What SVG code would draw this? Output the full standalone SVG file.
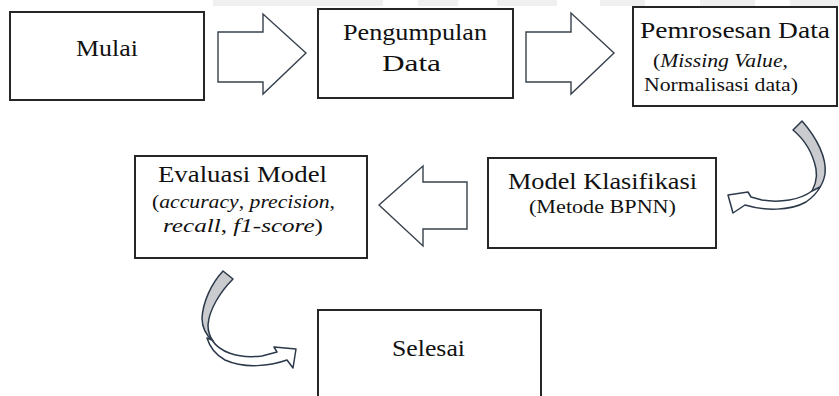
<svg xmlns="http://www.w3.org/2000/svg" width="839" height="396" viewBox="0 0 839 396">
<style>
.box{fill:#fff;stroke:#262626;stroke-width:2}
.t{font-family:"Liberation Serif","Times New Roman",serif;font-size:23px;fill:#111}
.s{font-family:"Liberation Serif","Times New Roman",serif;font-size:19px;fill:#111}
.i{font-style:italic}
.blk{fill:#fff;stroke:#37414c;stroke-width:1.4;stroke-linejoin:miter}
.cg{fill:#c9cbcf;stroke:#2c394a;stroke-width:1.5;stroke-linejoin:round}
.cw{fill:#fff;stroke:#2c394a;stroke-width:1.5;stroke-linejoin:round}
.wm{fill:#f0f0f0}
</style>
<rect width="839" height="396" fill="#fff"/>
<g id="watermark">
<rect class="wm" x="213" y="0" width="170" height="6"/>
<rect class="wm" x="418" y="0" width="40" height="6"/>
<rect class="wm" x="497" y="0" width="60" height="6"/>
<rect class="wm" x="600" y="0" width="45" height="6"/>
<rect class="wm" x="700" y="0" width="55" height="6"/>
<rect class="wm" x="790" y="0" width="49" height="6"/>
</g>
<g id="connectors">
<polygon class="blk" points="218,32 263,32 263,14 306,53 263,94 263,82 218,82"/>
<polygon class="blk" points="526,32 571,32 571,13 614,53 571,94 571,82 526,82"/>
<polygon class="blk" points="467,182 423,182 423,166 379,205 423,246 423,229 467,229"/>
<path class="cg" d="M793,130 L802,121 C817,138 827,158 825,174 C823,186 816,194 808,197 C814,189 818,180 816,169 C813,154 805,140 793,130 Z"/>
<path class="cw" d="M812,191 C800,200 780,203 762,200 L751,197 L748,192 L728,195 L733,213 L745,205 C765,211 790,211 806,202 C813,197 817,193 820,187 Z"/>
<path class="cg" d="M223,271 L233,279 C220,292 209,310 208,325 C208,332 210,337 213,341 C207,336 202,328 202,318 C203,302 211,284 223,271 Z"/>
<path class="cw" d="M212,340 C219,351 236,359 262,356 L277,352 L274,347 L296,349 L293,368 L287,360 C270,366 245,369 225,360 C216,355 210,348 207,338 Z"/>
</g>
<g id="mulai">
<rect class="box" x="10" y="12" width="194" height="88"/>
<text class="t" x="76" y="56" textLength="62" lengthAdjust="spacingAndGlyphs">Mulai</text>
</g>
<g id="pengumpulan">
<rect class="box" x="318" y="9" width="195" height="89"/>
<text class="t" x="343" y="40" textLength="144" lengthAdjust="spacingAndGlyphs">Pengumpulan</text>
<text class="t" x="382" y="71" textLength="59" lengthAdjust="spacingAndGlyphs">Data</text>
</g>
<g id="pemrosesan">
<rect class="box" x="633" y="7" width="204" height="99"/>
<text class="t" x="640" y="38" textLength="190" lengthAdjust="spacingAndGlyphs">Pemrosesan Data</text>
<text class="s" x="653" y="67" textLength="135" lengthAdjust="spacingAndGlyphs">(<tspan class="i">Missing Value</tspan>,</text>
<text class="s" x="644" y="91" textLength="154" lengthAdjust="spacingAndGlyphs">Normalisasi data)</text>
</g>
<g id="klasifikasi">
<rect class="box" x="488" y="158" width="228" height="90"/>
<text class="t" x="508" y="189" textLength="189" lengthAdjust="spacingAndGlyphs">Model Klasifikasi</text>
<text class="s" x="529" y="213" font-size="18" textLength="147" lengthAdjust="spacingAndGlyphs">(Metode BPNN)</text>
</g>
<g id="evaluasi">
<rect class="box" x="135" y="156" width="232" height="102"/>
<text class="t" x="158" y="182" textLength="169" lengthAdjust="spacingAndGlyphs">Evaluasi Model</text>
<text class="s" x="152" y="208" textLength="183" lengthAdjust="spacingAndGlyphs">(<tspan class="i">accuracy</tspan>, <tspan class="i">precision</tspan>,</text>
<text class="s" x="163" y="232" textLength="160" lengthAdjust="spacingAndGlyphs"><tspan class="i">recall</tspan>, <tspan class="i">f1-score</tspan>)</text>
</g>
<g id="selesai">
<rect class="box" x="318" y="310" width="223" height="100"/>
<text class="t" x="392" y="356" textLength="73" lengthAdjust="spacingAndGlyphs">Selesai</text>
</g>
</svg>
